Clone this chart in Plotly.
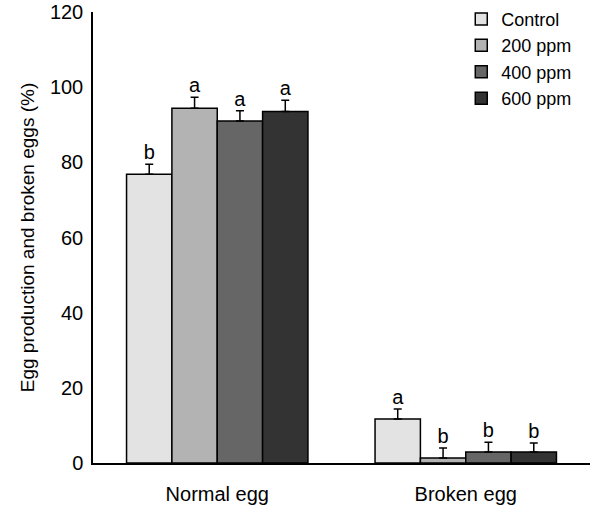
import plotly.graph_objects as go

categories = ["Normal egg", "Broken egg"]
series_names = ["Control", "200 ppm", "400 ppm", "600 ppm"]
values = {
    "Control": [76.8, 11.7],
    "200 ppm": [94.4, 1.3],
    "400 ppm": [91.0, 2.9],
    "600 ppm": [93.5, 2.9],
}
errors = {
    "Control": [2.7, 2.7],
    "200 ppm": [2.9, 2.7],
    "400 ppm": [2.7, 2.6],
    "600 ppm": [3.0, 2.4],
}
letters = {
    "Control": ["b", "a"],
    "200 ppm": ["a", "b"],
    "400 ppm": ["a", "b"],
    "600 ppm": ["a", "b"],
}
colors = ["#e3e3e3", "#b3b3b3", "#666666", "#333333"]
y_ticks = [0, 20, 40, 60, 80, 100, 120]

FONT = "Liberation Sans, Arial, sans-serif"
FS = 20

fig = go.Figure()
for name, col in zip(series_names, colors):
    fig.add_trace(go.Bar(
        name=name, x=categories, y=values[name],
        offsetgroup=name,
        marker=dict(color=col, line=dict(color="black", width=1.5)),
        error_y=dict(type="data", array=errors[name], arrayminus=[0] * len(categories),
                     symmetric=False, color="black", thickness=1.5, width=4),
    ))
for name in series_names:
    tops = [v + e for v, e in zip(values[name], errors[name])]
    fig.add_trace(go.Scatter(
        x=categories, y=tops, mode="text", text=letters[name],
        textposition="top center", offsetgroup=name, showlegend=False,
        textfont=dict(size=FS, color="black", family=FONT),
        cliponaxis=False, hoverinfo="skip",
    ))

fig.update_layout(
    width=597, height=506,
    margin=dict(l=93, r=7, t=12, b=43, autoexpand=False),
    paper_bgcolor="white", plot_bgcolor="white",
    barmode="group", bargap=0.27, bargroupgap=0,
    scattermode="group", scattergap=0.27,
    font=dict(family=FONT, size=FS, color="black"),
    legend=dict(x=0.741, xanchor="left", y=1.025, yanchor="top",
                font=dict(size=18), bgcolor="rgba(0,0,0,0)",
                itemwidth=30, tracegroupgap=0),
    showlegend=True,
)
fig.update_yaxes(range=[0, 120], tickvals=y_ticks, showgrid=False, zeroline=False,
                 showline=True, linecolor="black", linewidth=1.5, ticks="",
                 ticklabelstandoff=4, automargin=False, ticklabeloverflow="allow",
                 tickfont=dict(size=FS),
                 title=dict(text="Egg production and broken eggs (%)", font=dict(size=19), standoff=10))
fig.update_xaxes(showgrid=False, showline=True, linecolor="black", linewidth=1.5,
                 ticks="", ticklabelstandoff=12, automargin=False,
                 tickfont=dict(size=FS))

fig.write_html("out.html", config={"displayModeBar": False},
               post_script="document.body.style.margin='0px';")
